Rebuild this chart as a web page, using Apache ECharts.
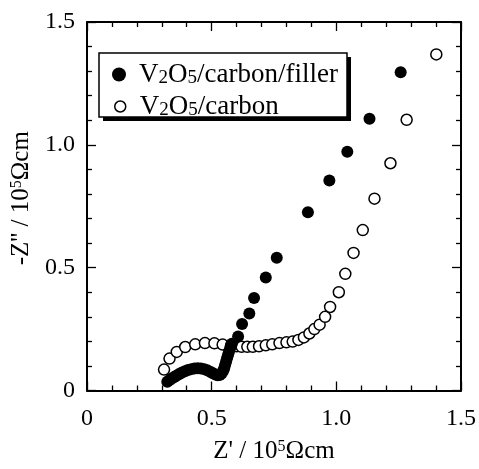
<!DOCTYPE html>
<html><head><meta charset="utf-8">
<script src="https://cdn.jsdelivr.net/npm/echarts@6/dist/echarts.min.js"></script>
<style>html,body{margin:0;padding:0;background:#fff}#c{width:479px;height:469px}</style>
</head><body><div id="c"></div>
<script>
// Z' and -Z'' in units of 10^5 Ohm cm
const filledZre = [0.322,0.330,0.340,0.350,0.360,0.370,0.381,0.393,0.405,0.418,0.431,0.444,0.457,0.470,0.482,0.494,0.505,0.515,0.524,0.532,0.539,0.545,0.550,0.554,0.558,0.562,0.566,0.570,0.575,0.581,
  0.606,0.622,0.651,0.670,0.717,0.761,0.886,0.972,1.044,1.133,1.258];
const filledZim = [0.036,0.042,0.049,0.055,0.061,0.067,0.073,0.078,0.083,0.087,0.090,0.091,0.090,0.087,0.082,0.076,0.070,0.065,0.062,0.063,0.068,0.078,0.090,0.104,0.118,0.132,0.146,0.160,0.175,0.190,
  0.220,0.271,0.313,0.377,0.460,0.540,0.726,0.855,0.972,1.106,1.295];
const openZre = [0.309,0.331,0.360,0.394,0.434,0.473,0.511,0.544,0.578,0.600,0.620,0.643,0.665,0.690,0.717,0.743,0.772,0.800,0.825,0.848,0.870,0.892,0.912,0.933,0.955,0.975,1.010,1.036,1.069,1.106,1.153,1.217,1.282,1.401];
const openZim = [0.085,0.130,0.157,0.177,0.188,0.193,0.192,0.187,0.183,0.180,0.178,0.178,0.178,0.180,0.184,0.188,0.193,0.196,0.199,0.206,0.216,0.232,0.250,0.268,0.300,0.340,0.400,0.475,0.560,0.653,0.781,0.925,1.102,1.368];
const xTickLabels = ['0','0.5','1.0','1.5'];
const yTickLabels = ['0','0.5','1.0','1.5'];
const seriesNames = ['V2O5/carbon/filler','V2O5/carbon'];

const FF = 'Liberation Serif';
const pair = (a,b) => a.map((v,i)=>[v,b[i]]);

const chart = echarts.init(document.getElementById('c'));
const baseAxis = {
  type:'value', min:0, max:1.5, interval:0.5,
  axisLine:{show:true, onZero:false, lineStyle:{color:'#000', width:2}},
  axisTick:{show:true, inside:true, length:9, lineStyle:{color:'#000', width:1.3}},
  minorTick:{show:true, splitNumber:5, length:5, lineStyle:{color:'#000', width:1.3}},
  splitLine:{show:false}, minorSplitLine:{show:false}
};
const titleRich = {
  a:{fontFamily:FF, fontSize:25, color:'#000', lineHeight:26},
  sup:{fontFamily:FF, fontSize:16, color:'#000', lineHeight:14, verticalAlign:'top'}
};
const legRich = (pad) => ({
  v:{fontFamily:FF, fontSize:27, color:'#000', lineHeight:26, padding:[0,0,0,pad]},
  n:{fontFamily:FF, fontSize:27, color:'#000', lineHeight:26},
  s:{fontFamily:FF, fontSize:19, color:'#000', lineHeight:13, verticalAlign:'bottom'}
});
const option = {
  animation:false,
  backgroundColor:'#fff',
  grid:{left:87, right:16, top:22, bottom:71},
  xAxis:[
    Object.assign({}, baseAxis, {position:'bottom',
      axisLabel:{fontFamily:FF, fontSize:24, color:'#000', margin:16, formatter:(v)=>xTickLabels[Math.round(v/0.5)]},
      name:"{a|Z' / 10}{sup|5}{a|Ωcm}", nameLocation:'middle', nameGap:48,
      nameTextStyle:{rich:titleRich}}),
    Object.assign({}, baseAxis, {position:'top', axisLabel:{show:false}})
  ],
  yAxis:[
    Object.assign({}, baseAxis, {position:'left',
      axisLabel:{fontFamily:FF, fontSize:24, color:'#000', margin:12, formatter:(v)=>yTickLabels[Math.round(v/0.5)]},
      name:"{a|-Z'' / 10}{sup|5}{a|Ωcm}", nameLocation:'middle', nameGap:50, nameRotate:90,
      nameTextStyle:{rich:titleRich, padding:[0,0,0,16]}}),
    Object.assign({}, baseAxis, {position:'right', axisLabel:{show:false}})
  ],
  graphic:[
    {type:'rect', z:3, shape:{x:103, y:57, width:248, height:64}, style:{fill:'#000'}},
    {type:'rect', z:3, shape:{x:99, y:53, width:248, height:64}, style:{fill:'#fff', stroke:'#000', lineWidth:1.5}}
  ],
  legend:[
    {data:[{name:seriesNames[0], icon:'circle', itemStyle:{color:'#000', borderWidth:0}}],
     left:112, top:61, padding:0, itemWidth:14, itemHeight:14, selectedMode:false, z:5,
     formatter:()=>'{v|V}{s|2}{n|O}{s|5}{n|/carbon/filler}',
     textStyle:{rich:legRich(8)}},
    {data:[{name:seriesNames[1], icon:'circle', itemStyle:{color:'#fff', borderColor:'#000', borderWidth:1.5}}],
     left:114, top:93, padding:0, itemWidth:11, itemHeight:11, selectedMode:false, z:5,
     formatter:()=>'{v|V}{s|2}{n|O}{s|5}{n|/carbon}',
     textStyle:{rich:legRich(9)}}
  ],
  series:[
    {name:seriesNames[1], type:'scatter', symbol:'circle', symbolSize:11, z:2,
     itemStyle:{color:'#fff', borderColor:'#000', borderWidth:1.5, opacity:1},
     data:pair(openZre, openZim)},
    {name:seriesNames[0], type:'scatter', symbol:'circle', symbolSize:12, z:3,
     itemStyle:{color:'#000', opacity:1},
     data:pair(filledZre, filledZim)}
  ]
};
chart.setOption(option);
</script></body></html>
